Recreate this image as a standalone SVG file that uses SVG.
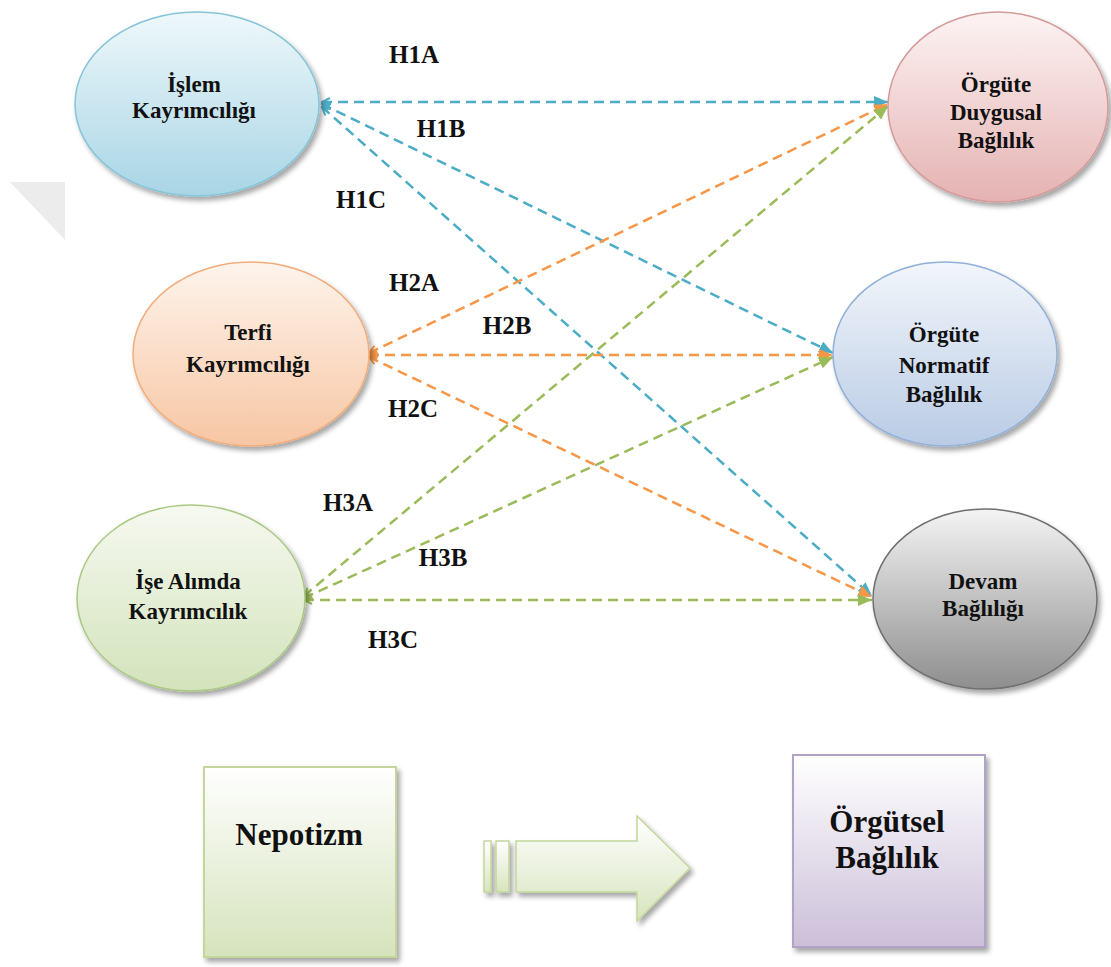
<svg xmlns="http://www.w3.org/2000/svg" width="1111" height="967" viewBox="0 0 1111 967">
<style>
.node text{font-family:"Liberation Serif","Times New Roman",serif;font-weight:bold;fill:#111;text-anchor:middle}
.et{font-size:23px}
.bt{font-size:31px}
.lbl{font-family:"Liberation Serif","Times New Roman",serif;font-weight:bold;font-size:25px;fill:#111;text-anchor:middle}
.dash{fill:none;stroke-width:2.5;stroke-dasharray:10 6}
.b{stroke:#4bacc6}.o{stroke:#f79646}.g{stroke:#9bbb59}
</style>
<defs>
<filter id="sh" x="-20%" y="-20%" width="140%" height="140%">
<feDropShadow dx="3" dy="4" stdDeviation="2.5" flood-color="#000" flood-opacity="0.35"/>
</filter>
<linearGradient id="gBlue" x1="0" y1="0" x2="0" y2="1"><stop offset="0" stop-color="#eef8fb"/><stop offset="1" stop-color="#a8d5e5"/></linearGradient>
<linearGradient id="gPink" x1="0" y1="0" x2="0" y2="1"><stop offset="0" stop-color="#fdf3f3"/><stop offset="1" stop-color="#e5b2b2"/></linearGradient>
<linearGradient id="gOrange" x1="0" y1="0" x2="0" y2="1"><stop offset="0" stop-color="#fef4ec"/><stop offset="1" stop-color="#f7c6a3"/></linearGradient>
<linearGradient id="gLBlue" x1="0" y1="0" x2="0" y2="1"><stop offset="0" stop-color="#f2f6fb"/><stop offset="1" stop-color="#b9cbe5"/></linearGradient>
<linearGradient id="gGreen" x1="0" y1="0" x2="0" y2="1"><stop offset="0" stop-color="#f6f9f0"/><stop offset="1" stop-color="#d3e3bb"/></linearGradient>
<linearGradient id="gGray" x1="0" y1="0" x2="0" y2="1"><stop offset="0" stop-color="#f4f4f4"/><stop offset="1" stop-color="#8e8e8e"/></linearGradient>
<linearGradient id="gBoxG" x1="0" y1="0" x2="0" y2="1"><stop offset="0" stop-color="#ffffff"/><stop offset="1" stop-color="#d6e3bc"/></linearGradient>
<linearGradient id="gBoxP" x1="0" y1="0" x2="0" y2="1"><stop offset="0" stop-color="#ffffff"/><stop offset="1" stop-color="#cbbfd9"/></linearGradient>
<linearGradient id="gArrow" x1="0" y1="0" x2="0" y2="1"><stop offset="0" stop-color="#ffffff"/><stop offset="1" stop-color="#d7e4bd"/></linearGradient>
<marker id="eb" markerUnits="userSpaceOnUse" markerWidth="16" markerHeight="12" refX="14" refY="6" orient="auto"><path d="M0,0 L14,6 L0,12 Z" fill="#4bacc6"/></marker>
<marker id="eo" markerUnits="userSpaceOnUse" markerWidth="16" markerHeight="12" refX="14" refY="6" orient="auto"><path d="M0,0 L14,6 L0,12 Z" fill="#f79646"/></marker>
<marker id="eg" markerUnits="userSpaceOnUse" markerWidth="16" markerHeight="12" refX="14" refY="6" orient="auto"><path d="M0,0 L14,6 L0,12 Z" fill="#9bbb59"/></marker>
<marker id="sb" markerUnits="userSpaceOnUse" markerWidth="12" markerHeight="12" refX="1" refY="6" orient="auto"><path d="M9,2 L1,6 L9,10" fill="none" stroke="#4bacc6" stroke-width="2"/></marker>
<marker id="so" markerUnits="userSpaceOnUse" markerWidth="12" markerHeight="12" refX="1" refY="6" orient="auto"><path d="M9,2 L1,6 L9,10" fill="none" stroke="#f79646" stroke-width="2"/></marker>
<marker id="sg" markerUnits="userSpaceOnUse" markerWidth="12" markerHeight="12" refX="1" refY="6" orient="auto"><path d="M9,2 L1,6 L9,10" fill="none" stroke="#9bbb59" stroke-width="2"/></marker>
</defs>
<rect width="1111" height="967" fill="#fff"/>
<polygon points="10,182 65,182 65,240" fill="#ececec"/>

<g id="connectors">
<line class="dash b" x1="322" y1="102" x2="888" y2="102" marker-start="url(#sb)" marker-end="url(#eb)"/>
<line class="dash b" x1="322" y1="104" x2="833" y2="353" marker-start="url(#sb)" marker-end="url(#eb)"/>
<line class="dash b" x1="322" y1="107" x2="872" y2="596" marker-start="url(#sb)" marker-end="url(#eb)"/>
<line class="dash o" x1="369" y1="353" x2="888" y2="104" marker-start="url(#so)" marker-end="url(#eo)"/>
<line class="dash o" x1="369" y1="355" x2="833" y2="355" marker-start="url(#so)" marker-end="url(#eo)"/>
<line class="dash o" x1="369" y1="357" x2="872" y2="597" marker-start="url(#so)" marker-end="url(#eo)"/>
<line class="dash g" x1="304" y1="596" x2="888" y2="106" marker-start="url(#sg)" marker-end="url(#eg)"/>
<line class="dash g" x1="304" y1="598" x2="833" y2="357" marker-start="url(#sg)" marker-end="url(#eg)"/>
<line class="dash g" x1="304" y1="600" x2="872" y2="600" marker-start="url(#sg)" marker-end="url(#eg)"/>
</g>

<g id="labels">
<text class="lbl" x="414" y="63">H1A</text>
<text class="lbl" x="441" y="137">H1B</text>
<text class="lbl" x="361" y="208">H1C</text>
<text class="lbl" x="414" y="291">H2A</text>
<text class="lbl" x="507" y="334">H2B</text>
<text class="lbl" x="413" y="417">H2C</text>
<text class="lbl" x="348" y="511">H3A</text>
<text class="lbl" x="443" y="566">H3B</text>
<text class="lbl" x="393" y="648">H3C</text>
</g>

<g id="islem" class="node">
<ellipse cx="197" cy="104" rx="122" ry="92" fill="url(#gBlue)" stroke="#86c4d8" stroke-width="1.5" filter="url(#sh)"/>
<text class="et" x="194" y="92">İşlem</text>
<text class="et" x="194" y="118">Kayrımcılığı</text>
</g>
<g id="duygusal" class="node">
<ellipse cx="998" cy="107" rx="110" ry="95" fill="url(#gPink)" stroke="#d49a9a" stroke-width="1.5" filter="url(#sh)"/>
<text class="et" x="996" y="92">Örgüte</text>
<text class="et" x="996" y="120">Duygusal</text>
<text class="et" x="996" y="148">Bağlılık</text>
</g>
<g id="terfi" class="node">
<ellipse cx="251" cy="354" rx="118" ry="92" fill="url(#gOrange)" stroke="#f2ad7c" stroke-width="1.5" filter="url(#sh)"/>
<text class="et" x="248" y="340">Terfi</text>
<text class="et" x="248" y="372">Kayrımcılığı</text>
</g>
<g id="normatif" class="node">
<ellipse cx="945" cy="354" rx="112" ry="92" fill="url(#gLBlue)" stroke="#93b0d8" stroke-width="1.5" filter="url(#sh)"/>
<text class="et" x="944" y="342">Örgüte</text>
<text class="et" x="944" y="373">Normatif</text>
<text class="et" x="944" y="402">Bağlılık</text>
</g>
<g id="ise" class="node">
<ellipse cx="191" cy="598" rx="114" ry="93" fill="url(#gGreen)" stroke="#aac884" stroke-width="1.5" filter="url(#sh)"/>
<text class="et" x="188" y="589">İşe Alımda</text>
<text class="et" x="188" y="619">Kayrımcılık</text>
</g>
<g id="devam" class="node">
<ellipse cx="985" cy="599" rx="112" ry="90" fill="url(#gGray)" stroke="#6f6f6f" stroke-width="1.5" filter="url(#sh)"/>
<text class="et" x="983" y="589">Devam</text>
<text class="et" x="983" y="616">Bağlılığı</text>
</g>

<g id="nepotizm" class="node">
<rect x="204" y="767" width="192" height="190" fill="url(#gBoxG)" stroke="#c3d69b" stroke-width="2" filter="url(#sh)"/>
<text class="bt" x="299" y="845">Nepotizm</text>
</g>
<g id="orgutsel" class="node">
<rect x="793" y="755" width="192" height="192" fill="url(#gBoxP)" stroke="#b3a2c7" stroke-width="2" filter="url(#sh)"/>
<text class="bt" x="887" y="832">Örgütsel</text>
<text class="bt" x="887" y="868">Bağlılık</text>
</g>

<g id="bigarrow" fill="url(#gArrow)" stroke="#c3d69b" stroke-width="1.5" filter="url(#sh)">
<rect x="484" y="841" width="7" height="51"/>
<rect x="496" y="841" width="13" height="51"/>
<path d="M516,841 L637,841 L637,816 L690,868 L637,921 L637,892 L516,892 Z"/>
</g>
</svg>
